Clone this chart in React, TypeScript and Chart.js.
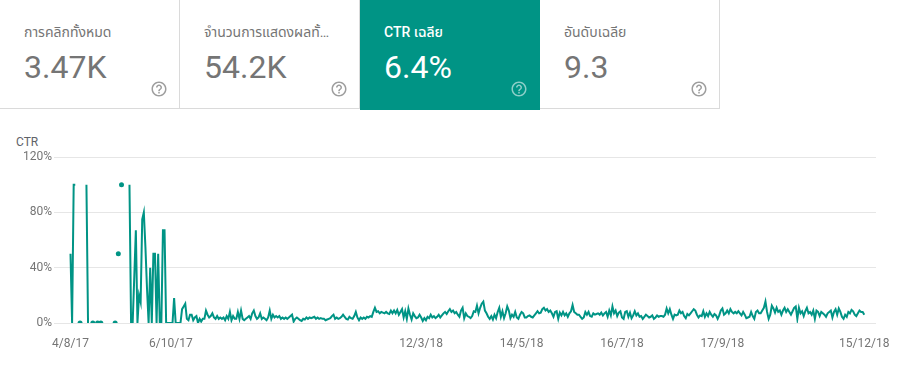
import React, { useEffect, useRef } from "react";
import { Chart, registerables } from "chart.js";

Chart.register(...registerables);

// ---- data -------------------------------------------------------------
const START_DATE = "2017-08-04";

// daily CTR (%) – null = no impressions that day
const ctrAug2017 = [50, 0, 100, 100, null, null, 0, null, null, null, 100, 0, null, null, 0, null, null, 0, null, 0, null, null, null, null, null, null, null, null];
const ctrSep2017 = [0, null, 50, null, 100, null, null, null, null, 100, 0, 0, 33, 67, 0, 20, 15, 75, 80, 55, 25, 0, 40, 0, 50, 50, 0, 50, 0, 0];
const ctrOct2017 = [67, 67, 0, 0, 0, 0, 0, 18, 0, 0, 0, 0, 10, 12, 14, 3, 2, 6, 6, 2, 4, 5, 0, 3, 1, 3, 3, 9, 6, 4, 5];
const ctrNov2017 = [7, 4, 3, 5, 3, 4, 3, 4, 2, 5, 3, 8, 2, 5, 3, 3, 8, 3, 9, 3, 2, 3, 4, 5, 3, 7, 9, 5, 3, 4];
const ctrDec2017 = [7, 3, 4, 3, 2, 4, 9, 3, 6, 4, 5, 4, 5, 3, 4, 3, 4, 3, 4, 5, 6, 1, 3, 4, 3, 2, 1.5, 3, 2.5, 4, 3];
const ctrJan2018 = [4, 3.5, 4, 4.5, 3, 4, 3, 3.5, 3, 3, 2, 2.5, 3, 3.5, 5, 6, 3, 4, 3, 3.5, 4.5, 6, 4.5, 3, 2.5, 4.5, 3.5, 3, 5, 8, 4];
const ctrFeb2018 = [2, 4, 3, 4, 3, 4.5, 4, 5, 4.5, 8, 11, 8, 8.5, 7, 8, 7.5, 7, 8, 7, 6.5, 9, 7, 9, 7, 9.5, 6, 8, 10];
const ctrMar2018 = [4, 8.5, 3, 10.5, 6, 2.5, 7, 5, 3.5, 4, 6, 4, 1.5, 3.5, 2, 4.5, 3.5, 6, 4, 5, 3.5, 4.5, 6, 4, 5.5, 7, 8, 6.5, 8.5, 10, 8];
const ctrApr2018 = [9, 7, 8, 6, 4.5, 9, 11, 3.5, 7, 5, 4.5, 3.5, 5, 8.5, 8, 12.5, 7, 11, 14, 15.5, 9, 7, 4.5, 3, 5, 2.5, 6, 3.5, 8, 11];
const ctrMay2018 = [4.5, 8.5, 3.5, 7, 12, 9, 3.5, 6, 4.5, 8, 4, 3, 6, 8, 7, 4, 4, 5, 5.5, 4.5, 4, 5.5, 7, 8.5, 7, 7.5, 10, 11, 9, 10, 8];
const ctrJun2018 = [9, 7, 4.5, 8, 8.5, 3, 7.5, 5.5, 8, 5.5, 7, 4.5, 7, 8.5, 13, 8, 7, 6, 6, 4.5, 3, 4, 8, 6, 8, 5, 4.5, 7, 6, 6.5];
const ctrJul2018 = [7, 6, 7.5, 5.5, 7, 8, 4.5, 9, 5.5, 12, 7, 9, 5, 7.5, 8.5, 4, 3, 8, 8.5, 4.5, 7.5, 3.5, 5.5, 8.5, 5.5, 7, 4.5, 5, 3, 4.5, 6];
const ctrAug2018 = [5, 4, 4.5, 5.5, 3, 4, 5.5, 4.5, 5, 5, 4.5, 6, 10.5, 7, 10, 6, 3, 6, 5.5, 6, 9, 7, 8, 5, 3.5, 6.5, 5.5, 7, 8.5, 10, 9];
const ctrSep2018 = [6, 4, 5.5, 5, 8.5, 4.5, 7, 5, 8, 6, 4.5, 6.5, 5.5, 3, 5.5, 9, 10.5, 6, 7, 9, 7, 10, 8, 7, 8, 7, 8.5, 7, 5.5, 8];
const ctrOct2018 = [6, 3.5, 4, 4.5, 8, 5, 3, 8, 9, 7, 7, 9, 11, 15.5, 8, 3, 6, 12.5, 10.5, 7.5, 11, 8, 9, 6, 9, 11, 8, 10, 8, 6, 8.5];
const ctrNov2018 = [11, 12, 3, 11, 7, 8.5, 5, 8.5, 11, 7, 8, 6, 9, 3, 9, 8, 5, 8, 7, 6, 4.5, 7, 8, 9, 4, 8, 10, 6, 10.5, 8];
const ctrDec2018 = [4.5, 3, 6, 4.5, 8, 7, 9.5, 8.5, 6, 5, 7, 9, 8, 8, 6];

const ctrSeries: (number | null)[] = [
  ...ctrAug2017, ...ctrSep2017, ...ctrOct2017, ...ctrNov2017, ...ctrDec2017,
  ...ctrJan2018, ...ctrFeb2018, ...ctrMar2018, ...ctrApr2018, ...ctrMay2018,
  ...ctrJun2018, ...ctrJul2018, ...ctrAug2018, ...ctrSep2018, ...ctrOct2018,
  ...ctrNov2018, ...ctrDec2018,
];

const xTickLabels = ["4/8/17", "6/10/17", "12/3/18", "14/5/18", "16/7/18", "17/9/18", "15/12/18"];
const yTickValues = [0, 40, 80, 120];

const cardTitles = ["การคลิกทั้งหมด", "จำนวนการแสดงผลทั้งหมด", "CTR เฉลีย", "อันดับเฉลีย"];
const cardValues = ["3.47K", "54.2K", "6.4%", "9.3"];
const activeCard = 2;

// ---- styling ----------------------------------------------------------
const TEAL = "#009485";
const GRAY = "#757575";
const FONT = "Roboto, 'Noto Sans Thai', 'Noto Sans', sans-serif";

const DAY = 86400000;
function dayIndexOf(label: string): number {
  const [d, m, y] = label.split("/").map(Number);
  const start = Date.parse(START_DATE + "T00:00:00Z");
  return Math.round((Date.UTC(2000 + y, m - 1, d) - start) / DAY);
}

const HELP_PATH =
  "M11 18h2v-2h-2v2zm1-16C6.48 2 2 6.48 2 12s4.48 10 10 10 10-4.48 10-10S17.52 2 12 2zm0 18c-4.41 0-8-3.59-8-8s3.59-8 8-8 8 3.590 8 8-3.59 8-8 8zm0-14c-2.21 0-4 1.79-4 4h2c0-1.1.9-2 2-2s2 .9 2 2c0 2-3 1.75-3 5h2c0-2.25 3-2.5 3-5 0-2.21-1.79-4-4-4z";

function Card({ title, value, active, left }: { title: string; value: string; active: boolean; left: number }) {
  const fg = active ? "#ffffff" : GRAY;
  return (
    <div
      style={{
        position: "absolute",
        left,
        top: 0,
        width: 180,
        height: active ? 110 : 109,
        boxSizing: "border-box",
        background: active ? TEAL : "#ffffff",
        borderRight: active ? "none" : "1px solid #dadada",
        borderBottom: active ? "none" : "1px solid #dadada",
        fontFamily: FONT,
      }}
    >
      <div
        style={{
          position: "absolute",
          left: 24,
          top: 24,
          width: 132,
          fontSize: 14,
          lineHeight: "16px",
          whiteSpace: "nowrap",
          overflow: "hidden",
          textOverflow: "ellipsis",
          color: fg,
          fontWeight: active ? 500 : 400,
        }}
      >
        {title}
      </div>
      <div style={{ position: "absolute", left: 24, top: 51, fontSize: 32, lineHeight: "32px", color: fg }}>{value}</div>
      <svg width={18} height={18} viewBox="0 0 24 24" style={{ position: "absolute", left: 150, top: 80 }}>
        <path d={HELP_PATH} fill={active ? "rgba(255,255,255,0.55)" : "#9e9e9e"} />
      </svg>
    </div>
  );
}

export default function App() {
  const canvasRef = useRef<HTMLCanvasElement>(null);

  useEffect(() => {
    const canvas = canvasRef.current;
    if (!canvas) return;
    const points = ctrSeries.map((v, i) => ({ x: i, y: v }));
    const tickIdx = xTickLabels.map(dayIndexOf);
    const lastIdx = ctrSeries.length - 1;
    const isolated = (i: number) =>
      ctrSeries[i] !== null &&
      (i === 0 || ctrSeries[i - 1] === null) &&
      (i === lastIdx || ctrSeries[i + 1] === null);

    const chart = new Chart(canvas, {
      type: "line",
      data: {
        datasets: [
          {
            data: points as any,
            borderColor: TEAL,
            backgroundColor: TEAL,
            borderWidth: 2,
            tension: 0,
            spanGaps: false,
            fill: false,
            pointRadius: (c: any) => (isolated(c.dataIndex) ? 2.5 : 0),
            pointHoverRadius: 0,
            pointBorderWidth: 0,
            pointBackgroundColor: TEAL,
          },
        ],
      },
      options: {
        responsive: false,
        animation: false,
        events: [],
        layout: { padding: { top: 27, right: 35, bottom: 23, left: 0 } },
        plugins: { legend: { display: false }, tooltip: { enabled: false }, title: { display: false } },
        scales: {
          x: {
            type: "linear",
            min: -10.35,
            max: lastIdx + 7.35,
            grid: { display: false, drawTicks: false },
            border: { display: false },
            afterBuildTicks: (s: any) => {
              s.ticks = tickIdx.map((v) => ({ value: v }));
            },
            afterFit: (s: any) => {
              s.height = 30;
            },
            ticks: {
              autoSkip: false,
              maxRotation: 0,
              padding: 14,
              color: GRAY,
              font: { family: FONT, size: 12 },
              callback: (_v: any, i: number) => xTickLabels[i],
            },
          },
          y: {
            min: 0,
            max: 120,
            afterBuildTicks: (s: any) => {
              s.ticks = yTickValues.map((v) => ({ value: v }));
            },
            afterFit: (s: any) => {
              s.width = 54;
            },
            grid: { color: "#e6e6e6", drawTicks: false, lineWidth: 1 },
            border: { display: false },
            ticks: {
              padding: 2,
              color: GRAY,
              font: { family: FONT, size: 12 },
              callback: (v: any) => v + "%",
            },
          },
        },
      },
    });
    return () => chart.destroy();
  }, []);

  return (
    <div style={{ position: "absolute", left: 0, top: 0, width: 911, height: 376, background: "#fff", overflow: "hidden" }}>
      {cardTitles.map((t, i) => (
        <Card key={i} title={t} value={cardValues[i]} active={i === activeCard} left={i * 180} />
      ))}
      <div
        style={{
          position: "absolute",
          left: 16,
          top: 135,
          fontFamily: FONT,
          fontSize: 12,
          lineHeight: "14px",
          color: "#5f6368",
        }}
      >
        CTR
      </div>
      <canvas
        ref={canvasRef}
        width={911}
        height={246}
        style={{ position: "absolute", left: 0, top: 130, width: 911, height: 246 }}
      />
    </div>
  );
}
